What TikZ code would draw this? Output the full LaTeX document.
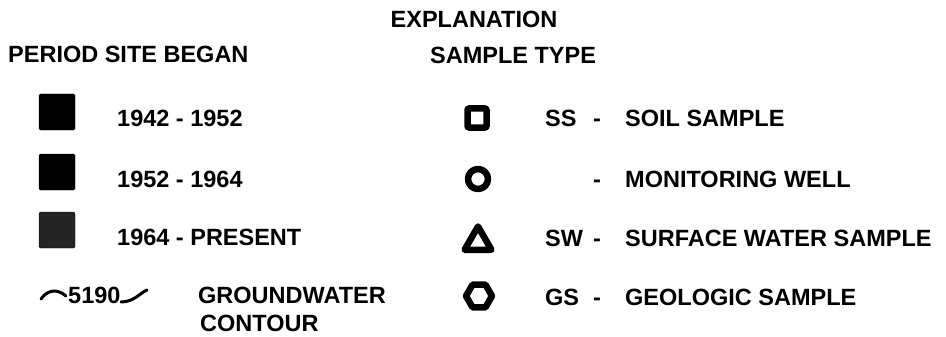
\documentclass[tikz,border=0pt]{standalone}
\usepackage{fontspec}
\setmainfont{Liberation Sans}
\usetikzlibrary{shapes.geometric}
\tikzset{
  lbl/.style={anchor=base west, inner sep=0pt, font=\bfseries\fontsize{23.5}{26}\selectfont},
  blk/.style={draw, minimum size=36pt, inner sep=0pt, rounded corners=1.5pt},
  sym/.style={draw, line width=6.5pt, line join=round, inner sep=0pt},
}
\begin{document}
\begin{tikzpicture}[x=1pt,y=-1pt]
\useasboundingbox (0,0) rectangle (946,337);
\node[lbl, anchor=base] (expl) at (474,28) {EXPLANATION};
\node[lbl] (period) at (8,63) {PERIOD SITE BEGAN};
\node[lbl] (stype) at (430,64) {SAMPLE TYPE};
% period site began
\foreach [count=\i] \yrs/\y/\c in {1942 - 1952/112/black, 1952 - 1964/172/black, 1964 - PRESENT/230/black!86} {
  \node[blk, fill=\c] (b\i) at (57,\y) {};
  \node[lbl] (yr\i) at (117,\y+15) {\yrs};
}
% contour
\node[lbl] (c5190) at (68,303) {5190};
\draw[line width=3pt, line cap=round] (41,299) .. controls (48,289) and (58,289) .. (66,296);
\draw[line width=3pt, line cap=round] (121,302) .. controls (134,302) and (140,293) .. (147,290);
\node[lbl] (gw) at (198,303) {GROUNDWATER};
\node[lbl] (cont) at (200,331) {CONTOUR};
% sample type
\node[sym, rectangle, minimum size=19pt, rounded corners=1pt] (ss) at (477,118) {};
\node[sym, circle, minimum size=20pt] (mw) at (478,179) {};
\node[sym, regular polygon, regular polygon sides=3, minimum size=31pt] (sw) at (478,242) {};
\node[sym, regular polygon, regular polygon sides=6, minimum size=26pt] (gs) at (479,296) {};
\foreach [count=\i] \cd/\ds/\y in {SS/SOIL SAMPLE/127, /MONITORING WELL/187, SW/SURFACE WATER SAMPLE/246, GS/GEOLOGIC SAMPLE/305} {
  \node[lbl] (cd\i) at (545,\y) {\cd};
  \node[lbl, anchor=base] (dash\i) at (597,\y) {-};
  \node[lbl] (ds\i) at (625,\y) {\ds};
}
\end{tikzpicture}
\end{document}
